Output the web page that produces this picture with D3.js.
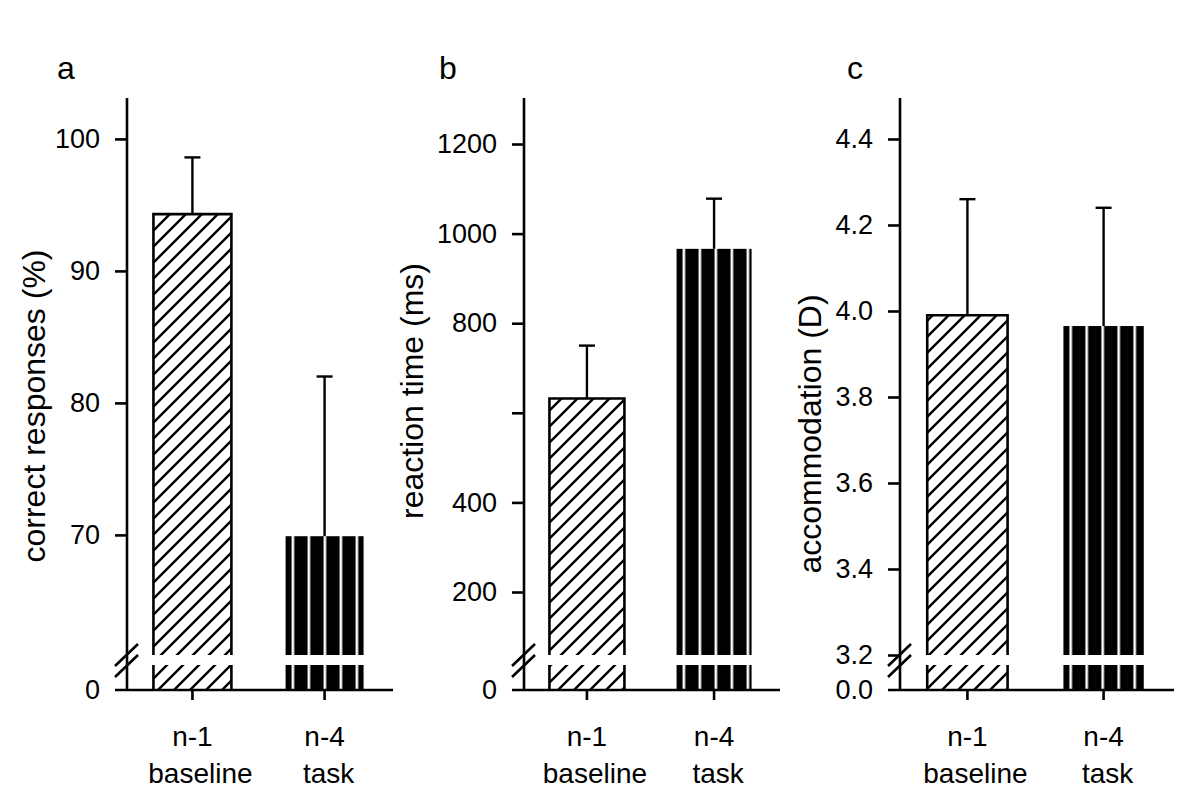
<!DOCTYPE html>
<html>
<head>
<meta charset="utf-8">
<script src="https://cdn.jsdelivr.net/npm/d3@7"></script>
<style>
  html, body { margin: 0; padding: 0; background: #fff; }
  svg { display: block; }
  text { font-family: "Liberation Sans", Arial, Helvetica, sans-serif; fill: #000; }
</style>
</head>
<body>
<svg id="chart" width="1200" height="811"></svg>
<script>
// ---------------- data ----------------
const categories = ["n-1", "n-4"];
const subLabels = ["baseline", "task"];
const panelLetters = ["a", "b", "c"];
const yTitles = ["correct responses (%)", "reaction time (ms)", "accommodation (D)"];

const correctMean = [94.3, 69.9];
const correctErr  = [4.3, 12.1];
const rtMean = [632, 966];
const rtErr  = [118, 112];
const accMean = [3.99, 3.965];
const accErr  = [0.27, 0.275];

const correctTicks = [70, 80, 90, 100];
const rtTicks = [200, 400, 600, 800, 1000, 1200];
const rtTickLabels = ["200", "400", "", "800", "1000", "1200"];
const accTicks = [3.2, 3.4, 3.6, 3.8, 4.0, 4.2, 4.4];
const zeroLabels = ["0", "0", "0.0"];

// ---------------- layout ----------------
const svg = d3.select("#chart");
const yTop = 98, breakY = 655, resumeY = 665, baseY = 690;
const FONT = 27;

const defs = svg.append("defs");

const panels = [
  { axisX: 127, xEnd: 390, domain: [60.9, 103.1], mean: correctMean, err: correctErr,
    ticks: correctTicks, fmt: d => String(d), labels: null,
    letterX: 57, titleX: 45, titleY: 406 },
  { axisX: 524, xEnd: 777, domain: [59.4, 1302.7], mean: rtMean, err: rtErr,
    ticks: rtTicks, fmt: null, labels: rtTickLabels,
    letterX: 439, titleX: 423, titleY: 391 },
  { axisX: 900, xEnd: 1171, domain: [3.2, 4.4953], mean: accMean, err: accErr,
    ticks: accTicks, fmt: d3.format(".1f"), labels: null,
    letterX: 847, titleX: 821, titleY: 434 }
];

// hatch pattern
const hatch = defs.append("pattern")
  .attr("id", "hatch").attr("patternUnits", "userSpaceOnUse")
  .attr("width", 16).attr("height", 16);
hatch.append("rect").attr("width", 16).attr("height", 16).attr("fill", "#fff");
hatch.append("path")
  .attr("d", "M-4,4 L4,-4 M0,16 L16,0 M12,20 L20,12")
  .attr("stroke", "#000").attr("stroke-width", 2.4).attr("fill", "none");

panels.forEach((p, pi) => {
  const g = svg.append("g");
  const y = d3.scaleLinear().domain(p.domain).range([breakY, yTop]);
  const x = d3.scaleBand().domain(categories).range([p.axisX, p.xEnd])
    .paddingInner(0.41).paddingOuter(0.2);
  const bw = x.bandwidth();

  // stripe pattern for the solid bar (origin at bar's left edge)
  const bx = x(categories[1]);
  const stripe = defs.append("pattern")
    .attr("id", "stripe" + pi).attr("patternUnits", "userSpaceOnUse")
    .attr("x", bx).attr("y", 0).attr("width", 16).attr("height", 16);
  stripe.append("rect").attr("width", 16).attr("height", 16).attr("fill", "#000");
  stripe.append("rect").attr("x", 6).attr("width", 2.6).attr("height", 16).attr("fill", "#fff");

  // bars
  categories.forEach((c, i) => {
    const left = x(c), right = left + bw;
    const top = y(p.mean[i]);
    const fill = i === 0 ? "url(#hatch)" : "url(#stripe" + pi + ")";
    g.append("rect").attr("x", left).attr("y", top)
      .attr("width", bw).attr("height", breakY - top).attr("fill", fill);
    g.append("rect").attr("x", left).attr("y", resumeY)
      .attr("width", bw).attr("height", baseY - resumeY).attr("fill", fill);
    if (i === 0) {
      g.append("path")
        .attr("d", `M${left},${breakY} V${top} H${right} V${breakY} M${left},${resumeY} V${baseY} M${right},${resumeY} V${baseY}`)
        .attr("fill", "none").attr("stroke", "#000").attr("stroke-width", 2.6);
    }
    // error bar (upper only)
    const cx = left + bw / 2;
    const et = y(p.mean[i] + p.err[i]);
    g.append("line").attr("x1", cx).attr("x2", cx).attr("y1", top).attr("y2", et)
      .attr("stroke", "#000").attr("stroke-width", 2.4);
    g.append("line").attr("x1", cx - 8).attr("x2", cx + 8).attr("y1", et).attr("y2", et)
      .attr("stroke", "#000").attr("stroke-width", 2.4);
  });

  // y axis
  const yAxis = d3.axisLeft(y).tickValues(p.ticks).tickSize(12).tickPadding(15)
    .tickFormat((d, i) => p.labels ? p.labels[i] : p.fmt(d));
  const ya = g.append("g").attr("transform", `translate(${p.axisX},0)`).call(yAxis);
  ya.select(".domain").remove();
  ya.selectAll(".tick line").attr("stroke", "#000").attr("stroke-width", 2.6);
  ya.selectAll(".tick text").style("font-size", FONT + "px")
    .style("font-family", '"Liberation Sans", Arial, sans-serif').attr("fill", "#000");
  g.append("line").attr("x1", p.axisX).attr("x2", p.axisX).attr("y1", yTop).attr("y2", baseY)
    .attr("stroke", "#000").attr("stroke-width", 2.6);
  // zero label below the break
  g.append("text").attr("x", p.axisX - 27).attr("y", baseY).attr("dy", "0.35em")
    .attr("text-anchor", "end").style("font-size", FONT + "px").text(zeroLabels[pi]);
  // break marks
  [breakY, resumeY + 1].forEach(by => {
    g.append("line").attr("x1", p.axisX - 12).attr("y1", by + 11)
      .attr("x2", p.axisX + 11).attr("y2", by - 11)
      .attr("stroke", "#000").attr("stroke-width", 2.6);
  });

  // x axis
  const xAxis = d3.axisBottom(x).tickSize(10).tickPadding(26);
  const xa = g.append("g").attr("transform", `translate(0,${baseY})`).call(xAxis);
  xa.select(".domain").remove();
  xa.selectAll(".tick line").attr("stroke", "#000").attr("stroke-width", 2.6);
  xa.selectAll(".tick text").style("font-size", "28px")
    .style("font-family", '"Liberation Sans", Arial, sans-serif').attr("fill", "#000");
  g.append("line").attr("x1", p.axisX - 12).attr("x2", p.xEnd + 3)
    .attr("y1", baseY).attr("y2", baseY).attr("stroke", "#000").attr("stroke-width", 2.6);

  // sub labels
  subLabels.forEach((s, i) => {
    g.append("text").attr("x", x(categories[i]) + bw / 2 + (i === 0 ? 8 : 4))
      .attr("y", 783).attr("text-anchor", "middle").style("font-size", "28px").text(s);
  });

  // panel letter
  g.append("text").attr("x", p.letterX).attr("y", 79).style("font-size", "32px").text(panelLetters[pi]);

  // y title
  g.append("text").attr("transform", `translate(${p.titleX},${p.titleY}) rotate(-90)`)
    .attr("text-anchor", "middle").style("font-size", "32px").text(yTitles[pi]);
});
</script>
</body>
</html>
